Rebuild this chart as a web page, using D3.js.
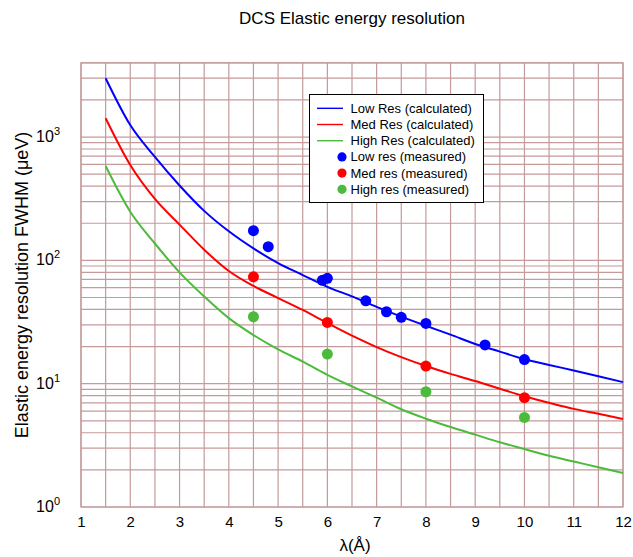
<!DOCTYPE html>
<html>
<head>
<meta charset="utf-8">
<script src="https://cdn.jsdelivr.net/npm/d3@7"></script>
<style>
  html, body { margin: 0; padding: 0; background: #fff; }
  svg { display: block; font-family: "Liberation Sans", Arial, Helvetica, sans-serif; }
</style>
</head>
<body>
<svg id="chart" width="633" height="557"></svg>
<script>
// ---- data ----
const lambdaCalc = [1.5, 2, 2.5, 3, 3.5, 4, 4.5, 5, 5.5, 6, 6.5, 7, 7.5, 8, 8.5, 9, 9.5, 10, 10.5, 11, 11.5, 12];
const lowResCalc  = [3000, 1250, 690, 405, 252, 172, 125, 95, 76, 61, 51, 42, 35, 29.5, 25, 21, 18.2, 15.8, 14.2, 12.8, 11.5, 10.3];
const medResCalc  = [1420, 593, 315, 195, 122, 82, 62, 49.5, 39.6, 31, 24.5, 19.8, 16.4, 13.9, 12, 10.5, 9.1, 7.9, 7.0, 6.25, 5.7, 5.18];
const highResCalc = [582, 248, 137, 80, 51, 34, 24.8, 19, 15.1, 11.8, 9.5, 7.7, 6.2, 5.2, 4.45, 3.86, 3.35, 2.95, 2.6, 2.34, 2.1, 1.89];

const lowMeasX  = [4.5, 4.8, 5.9, 6.0, 6.78, 7.2, 7.5, 8.0, 9.2, 10.0];
const lowMeasY  = [174, 129, 69, 71.5, 47, 38.3, 34.5, 30.8, 20.6, 15.7];
const medMeasX  = [4.5, 6, 8, 10];
const medMeasY  = [73.6, 31.4, 13.9, 7.7];
const highMeasX = [4.5, 6, 8, 10];
const highMeasY = [34.9, 17.4, 8.6, 5.33];

const xTicks = [1, 2, 3, 4, 5, 6, 7, 8, 9, 10, 11, 12];
const yTicks = [1, 10, 100, 1000];
const legendLabels = ["Low Res (calculated)", "Med Res (calculated)", "High Res (calculated)",
                      "Low res (measured)", "Med res (measured)", "High res (measured)"];

const title = "DCS Elastic energy resolution";
const xTitle = "λ(Å)";
const yTitle = "Elastic energy resolution FWHM (μeV)";

// ---- layout ----
const BLUE = "#0000ff", RED = "#ff0000", GREEN = "#4cbb3c", GRID = "#c49a9a";
const svg = d3.select("#chart");
const x = d3.scaleLinear().domain([1, 12]).range([81, 623]);
const y = d3.scaleLog().domain([1, 4000]).range([507, 62.8]);

// grid
const g = svg.append("g");
const vLines = d3.range(1, 12.01, 0.5);
g.selectAll("line.v").data(vLines).enter().append("line")
  .attr("x1", d => x(d)).attr("x2", d => x(d))
  .attr("y1", y(4000)).attr("y2", y(1))
  .attr("stroke", GRID).attr("stroke-width", 1.2);
const hLines = [];
[1, 10, 100, 1000].forEach(dec => { for (let k = 1; k <= 9; k++) { if (dec * k <= 4000) hLines.push(dec * k); } });
g.selectAll("line.h").data(hLines).enter().append("line")
  .attr("x1", x(1)).attr("x2", x(12))
  .attr("y1", d => y(d)).attr("y2", d => y(d))
  .attr("stroke", GRID).attr("stroke-width", 1.2);
g.append("rect").attr("x", x(1)).attr("y", y(4000))
  .attr("width", x(12) - x(1)).attr("height", y(1) - y(4000))
  .attr("fill", "none").attr("stroke", GRID).attr("stroke-width", 1.2);

// axes tick labels
const xAxis = d3.axisBottom(x).tickValues(xTicks).tickSize(0).tickPadding(0).tickFormat(d3.format("d"));
const xa = svg.append("g").attr("transform", `translate(0,${y(1)})`).call(xAxis);
xa.select(".domain").remove();
xa.selectAll("text").attr("font-size", 15).attr("fill", "#000")
  .attr("font-family", "Liberation Sans, Arial, sans-serif")
  .attr("dy", null).attr("y", 20);

const ya = svg.append("g");
ya.selectAll("text").data(yTicks).enter().append("text")
  .attr("x", 60).attr("y", d => y(d) + 5)
  .attr("text-anchor", "end").attr("font-size", 16).attr("fill", "#000")
  .each(function(d) {
    const t = d3.select(this);
    t.append("tspan").text("10");
    t.append("tspan").attr("font-size", 11).attr("dy", -7).text(Math.round(Math.log10(d)));
  });

// titles
svg.append("text").attr("x", 352).attr("y", 24).attr("text-anchor", "middle")
  .attr("font-size", 17).text(title);
svg.append("text").attr("x", 355).attr("y", 551).attr("text-anchor", "middle")
  .attr("font-size", 17).text(xTitle);
svg.append("text").attr("transform", `translate(28,${(y(1) + y(4000)) / 2}) rotate(-90)`)
  .attr("text-anchor", "middle").attr("font-size", 18).text(yTitle);

// curves
const line = d3.line().x(d => x(d[0])).y(d => y(d[1])).curve(d3.curveMonotoneX);
[[lowResCalc, BLUE], [medResCalc, RED], [highResCalc, GREEN]].forEach(([vals, col]) => {
  svg.append("path").datum(lambdaCalc.map((l, i) => [l, vals[i]]))
    .attr("d", line).attr("fill", "none").attr("stroke", col).attr("stroke-width", 2);
});

// measured points
[[lowMeasX, lowMeasY, BLUE], [medMeasX, medMeasY, RED], [highMeasX, highMeasY, GREEN]].forEach(([xs, ys, col]) => {
  svg.append("g").selectAll("circle").data(xs.map((v, i) => [v, ys[i]])).enter().append("circle")
    .attr("cx", d => x(d[0])).attr("cy", d => y(d[1])).attr("r", 5.5).attr("fill", col);
});

// legend
const lg = svg.append("g");
lg.append("rect").attr("x", 309.5).attr("y", 94.5).attr("width", 174).attr("height", 108)
  .attr("fill", "#fff").attr("stroke", "#000").attr("stroke-width", 1);
const cols = [BLUE, RED, GREEN, BLUE, RED, GREEN];
legendLabels.forEach((lab, i) => {
  const yy = 108.3 + i * 16.2;
  if (i < 3) {
    lg.append("line").attr("x1", 317).attr("x2", 343).attr("y1", yy).attr("y2", yy)
      .attr("stroke", cols[i]).attr("stroke-width", 1.4);
  } else {
    lg.append("circle").attr("cx", 342).attr("cy", yy).attr("r", 4.6).attr("fill", cols[i]);
  }
  lg.append("text").attr("x", 350.5).attr("y", yy + 4.5).attr("font-size", 13).text(lab);
});
</script>
</body>
</html>
